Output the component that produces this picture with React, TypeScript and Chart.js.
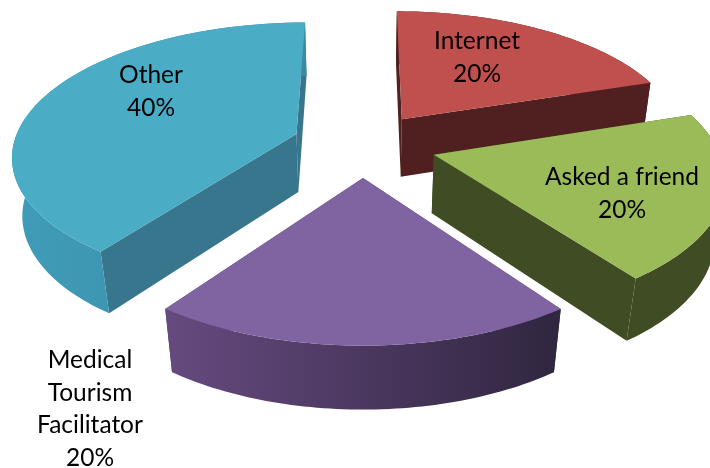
import React, { useEffect, useRef } from "react";
import { Chart, registerables } from "chart.js";

Chart.register(...registerables);

const categories = ["Internet", "Asked a friend", "Medical Tourism Facilitator", "Other"];
const values = [20, 20, 20, 40];
const topColors = ["#c0504d", "#9bbb59", "#8064a2", "#4bacc6"];
const explode = [24, 26, 25, 25];
const drawOrder = [0, 3, 1, 2];
const edgeColors = ["#4f201f", "#3f4c24", "#4a3a66", "#37768c"];
const rimLeft = ["#4f201f", "#3f4c24", "#664a80", "#3f9cb8"];
const rimRight = ["#4f201f", "#3f4c24", "#30263f", "#3a8aa4"];
const labelLines = [["Internet"], ["Asked a friend"], ["Medical", "Tourism", "Facilitator"], ["Other"]];
const labelAnchor = [[477, 41], [622, 177], [90, 360], [151, 75]];

const view = { cx: 363, cy: 144, rx: 283, ry: 131, k: 0.15, depth: 60, shrink: 0.03 };

function project(u: number, v: number, z: number) {
  const w = 1 - view.k * v + view.shrink * z;
  return { x: view.cx + (view.rx * u) / w, y: view.cy + (view.ry * v + view.depth * z) / w };
}

const pie3d = {
  id: "pie3d",
  beforeDatasetsDraw(chart: any) {
    const ctx = chart.ctx;
    const arcs = chart.getDatasetMeta(0).data;
    for (const i of drawOrder) {
      const arc = arcs[i];
      const a0 = arc.startAngle;
      const a1 = arc.endAngle;
      const mid = (a0 + a1) / 2;
      const e = arc.options.offset / 100;
      const ou = Math.cos(mid) * e;
      const ov = Math.sin(mid) * e;
      const pts: number[][] = [];
      for (let s = 0; s <= 64; s++) {
        const a = a0 + ((a1 - a0) * s) / 64;
        pts.push([ou + Math.cos(a), ov + Math.sin(a)]);
      }
      const fill = (poly: { x: number; y: number }[], style: any) => {
        ctx.beginPath();
        poly.forEach((p, n) => (n ? ctx.lineTo(p.x, p.y) : ctx.moveTo(p.x, p.y)));
        ctx.closePath();
        ctx.fillStyle = style;
        ctx.fill();
      };
      const first = pts[0];
      const last = pts[pts.length - 1];
      fill([project(ou, ov, 0), project(first[0], first[1], 0), project(first[0], first[1], 1), project(ou, ov, 1)], edgeColors[i]);
      fill([project(ou, ov, 0), project(last[0], last[1], 0), project(last[0], last[1], 1), project(ou, ov, 1)], edgeColors[i]);
      const top = pts.map((p) => project(p[0], p[1], 0));
      const bottom = pts.map((p) => project(p[0], p[1], 1));
      const xs = top.map((p) => p.x);
      const g = ctx.createLinearGradient(Math.min(...xs), 0, Math.max(...xs), 0);
      g.addColorStop(0, rimLeft[i]);
      g.addColorStop(1, rimRight[i]);
      fill([...top, ...bottom.reverse()], g);
      fill([project(ou, ov, 0), ...top], arc.options.backgroundColor);
    }
    return false;
  },
  afterDraw(chart: any) {
    const ctx = chart.ctx;
    const total = values.reduce((a, b) => a + b, 0);
    ctx.save();
    ctx.font = "24.5px Lato, sans-serif";
    ctx.textAlign = "center";
    ctx.textBaseline = "middle";
    ctx.fillStyle = "#000000";
    labelLines.forEach((lines, i) => {
      const all = [...lines, `${Math.round((values[i] / total) * 100)}%`];
      all.forEach((t, n) => ctx.fillText(t, labelAnchor[i][0], labelAnchor[i][1] + n * 32.6));
    });
    ctx.restore();
  },
};

export default function App() {
  const ref = useRef<HTMLCanvasElement>(null);
  useEffect(() => {
    const chart = new Chart(ref.current!, {
      type: "pie",
      data: {
        labels: categories,
        datasets: [{ data: values, backgroundColor: topColors, offset: explode, borderWidth: 0 }],
      },
      options: {
        animation: false,
        responsive: false,
        plugins: { legend: { display: false }, tooltip: { enabled: false } },
      },
      plugins: [pie3d],
    } as any);
    return () => chart.destroy();
  }, []);
  return (
    <canvas
      ref={ref}
      width={710}
      height={468}
      style={{ position: "fixed", left: 0, top: 0, width: 710, height: 468, background: "#ffffff" }}
    />
  );
}
